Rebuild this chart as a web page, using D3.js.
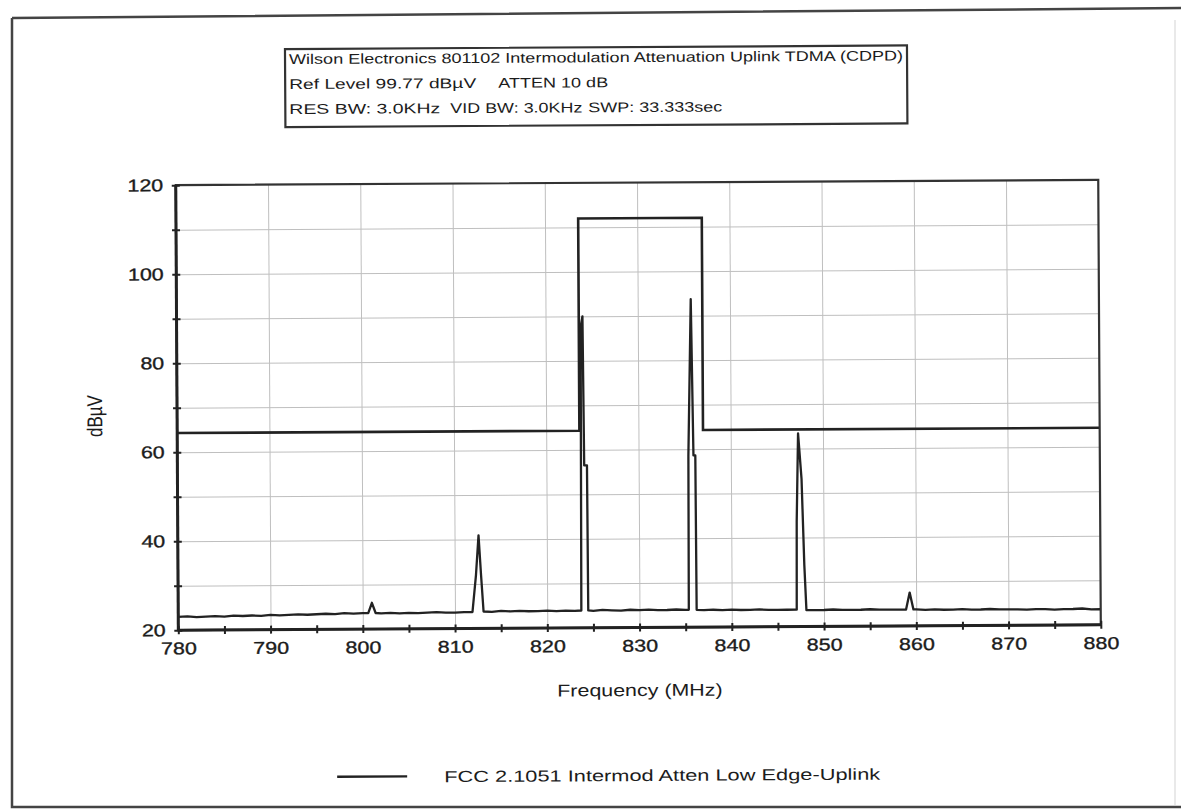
<!DOCTYPE html>
<html lang="en">
<head>
<meta charset="utf-8">
<title>Intermodulation Attenuation Uplink</title>
<style>
  body { margin: 0; background: #fff; }
  svg { display: block; }
  text { font-family: "Liberation Sans", Arial, sans-serif; fill: #1c1c1c; }
  .grid line { stroke: #bfbfbf; stroke-width: 1; }
  .grid path { display: none; }
  .axis path { display: none; }
  .axis line { stroke: #222; stroke-width: 2; }
  .axis text { stroke: #1c1c1c; stroke-width: 0.35; }
</style>
</head>
<body>
<svg width="1181" height="810"></svg>
<script src="https://d3js.org/d3.v7.min.js"></script>
<script>

    // header box lines
    var titleLine1 = ["Wilson Electronics 801102 Intermodulation Attenuation Uplink TDMA (CDPD)"];
    var titleLine2 = ["Ref Level 99.77 dBµV", "ATTEN 10 dB"];
    var titleLine3 = ["RES BW: 3.0KHz", "VID BW: 3.0KHz", "SWP: 33.333sec"];

    var xLabel = "Frequency (MHz)",
        yLabel = "dBµV",
        legendLabel = "FCC 2.1051 Intermod Atten Low Edge-Uplink";

    var xTickLabels = [780, 790, 800, 810, 820, 830, 840, 850, 860, 870, 880];
    var yTickLabels = [20, 40, 60, 80, 100, 120];

    // limit mask (FCC 2.1051)
    var limitFreq  = [780, 823.6, 823.6, 837.0, 837.0, 880];
    var limitLevel = [64.3, 64.3, 112.0, 112.0, 64.3, 64.3];

    var traceFreq = [
        780, 781, 782, 783, 784, 785, 786, 787, 788, 789,
        790, 791, 792, 793, 794, 795, 796, 797, 798, 799,
        800, 800.6, 801.0, 801.4, 802, 803, 804, 805, 806, 807,
        808, 809, 810, 811, 811.9, 812.3, 812.6, 812.85, 813.1, 814,
        815, 816, 817, 818, 819, 820, 821, 822, 823, 823.7,
        823.75, 823.8, 824.0, 824.1, 824.4, 824.45, 825, 826, 827, 828,
        829, 830, 831, 832, 833, 834, 835, 835.35, 835.4, 835.75,
        835.95, 836.15, 836.2, 837, 838, 839, 840, 841, 842, 843,
        844, 845, 846, 847.05, 847.1, 847.3, 847.65, 847.9, 848.1, 849,
        850, 851, 852, 853, 854, 855, 856, 857, 858, 858.9,
        859.3, 859.7, 860, 861, 862, 863, 864, 865, 866, 867,
        868, 869, 870, 871, 872, 873, 874, 875, 876, 877,
        878, 879, 880
    ];
    var traceLevel = [
        23.0, 23.1, 22.9, 23.0, 23.1, 23.0, 23.2, 23.1, 23.2, 23.1,
        23.3, 23.2, 23.3, 23.4, 23.3, 23.4, 23.5, 23.4, 23.6, 23.5,
        23.6, 23.6, 25.9, 23.6, 23.5, 23.6, 23.5, 23.6, 23.5, 23.6,
        23.7, 23.6, 23.6, 23.7, 23.7, 32.0, 40.9, 32.0, 23.8, 23.7,
        23.9, 23.8, 23.9, 23.8, 23.8, 23.9, 23.8, 23.9, 23.8, 23.9,
        56.5, 87.7, 90.0, 56.5, 56.5, 23.9, 23.8, 24.0, 23.9, 23.8,
        24.0, 23.9, 24.0, 23.9, 23.9, 24.0, 23.9, 23.9, 58.6, 93.7,
        58.6, 58.6, 23.9, 23.8, 23.9, 23.8, 23.9, 23.8, 23.8, 23.9,
        23.8, 23.8, 23.8, 23.8, 43.5, 63.4, 53.2, 33.8, 23.7, 23.7,
        23.7, 23.8, 23.7, 23.7, 23.7, 23.8, 23.7, 23.7, 23.7, 23.7,
        27.5, 23.7, 23.7, 23.6, 23.7, 23.6, 23.6, 23.7, 23.6, 23.6,
        23.7, 23.6, 23.6, 23.6, 23.5, 23.6, 23.6, 23.5, 23.6, 23.6,
        23.7, 23.5, 23.5
    ];

    var svg = d3.select("svg"),
        W = +svg.attr("width"),
        H = +svg.attr("height");

    // the scanned page frame
    svg.append("path")
        .attr("d", "M12,18 L1181,8 M12,18 L12,807 L1181,807")
        .attr("fill", "none")
        .attr("stroke", "#444")
        .attr("stroke-width", 2.5);
    svg.append("line")
        .attr("x1", 1175).attr("y1", 20).attr("x2", 1175).attr("y2", 805)
        .attr("stroke", "#e2e2e2").attr("stroke-width", 1.5);

    // the scan is slightly tilted
    var g = svg.append("g").attr("transform", "rotate(-0.33,640,400)");

    var x = d3.scaleLinear().domain([780, 880]).range([177, 1099.5]),
        y = d3.scaleLinear().domain([20, 120]).range([627.5, 182.5]);

    var x0 = x.range()[0], x1 = x.range()[1],
        y0 = y.range()[0], y1 = y.range()[1];

    // grid
    g.append("g").attr("class", "grid")
        .attr("transform", "translate(0," + y0 + ")")
        .call(d3.axisBottom(x).tickValues(d3.range(790, 880, 10)).tickSize(-(y0 - y1)).tickFormat(""));
    g.append("g").attr("class", "grid")
        .attr("transform", "translate(" + x0 + ",0)")
        .call(d3.axisLeft(y).tickValues(d3.range(30, 120, 10)).tickSize(-(x1 - x0)).tickFormat(""));

    var line = d3.line().x(function(d) { return x(d[0]); }).y(function(d) { return y(d[1]); });

    // limit line
    var limitPts = limitFreq.map(function(f, i) { return [f, limitLevel[i]]; });
    g.append("path")
        .datum(limitPts)
        .attr("fill", "none")
        .attr("stroke", "#222")
        .attr("stroke-width", 2.6)
        .attr("d", line);

    // trace
    var tracePts = traceFreq.map(function(f, i) { return [f, traceLevel[i]]; });
    g.append("path")
        .datum(tracePts)
        .attr("fill", "none")
        .attr("stroke", "#222")
        .attr("stroke-width", 2.3)
        .attr("stroke-linejoin", "round")
        .attr("d", line);

    // plot frame
    g.append("rect")
        .attr("x", x0).attr("y", y1)
        .attr("width", x1 - x0).attr("height", y0 - y1)
        .attr("fill", "none")
        .attr("stroke", "#333")
        .attr("stroke-width", 2.2);
    g.append("line").attr("x1", x0).attr("x2", x0).attr("y1", y1).attr("y2", y0)
        .attr("stroke", "#222").attr("stroke-width", 3);
    g.append("line").attr("x1", x0).attr("x2", x1).attr("y1", y0).attr("y2", y0)
        .attr("stroke", "#222").attr("stroke-width", 3);

    // x axis: ticks through the baseline, labels every 10 MHz
    var xTickVals = d3.range(780, 881, 5);
    g.append("g").attr("class", "axis")
        .attr("transform", "translate(0," + y0 + ")")
        .call(d3.axisBottom(x).tickValues(xTickVals).tickSize(4).tickPadding(8)
            .tickFormat(function(d) { return xTickLabels.indexOf(d) >= 0 ? d : ""; }))
        .selectAll("text")
        .attr("font-size", 17)
        .attr("transform", "scale(1.26,1)");
    g.append("g").attr("class", "axis")
        .attr("transform", "translate(0," + y0 + ")")
        .call(d3.axisTop(x).tickValues(xTickVals).tickSize(4).tickFormat(""));

    // y axis: ticks every 10, labels every 20
    var yTickVals = d3.range(20, 121, 10);
    g.append("g").attr("class", "axis")
        .attr("transform", "translate(" + x0 + ",0)")
        .call(d3.axisLeft(y).tickValues(yTickVals).tickSize(4).tickPadding(6)
            .tickFormat(function(d) { return yTickLabels.indexOf(d) >= 0 ? d : ""; }))
        .selectAll("text")
        .attr("font-size", 17)
        .attr("transform", "scale(1.26,1)");
    g.append("g").attr("class", "axis")
        .attr("transform", "translate(" + x0 + ",0)")
        .call(d3.axisRight(y).tickValues(yTickVals).tickSize(4).tickFormat(""));

    // axis titles
    g.append("text")
        .attr("transform", "translate(" + ((x0 + x1) / 2) + ",696) scale(1.26,1)")
        .attr("text-anchor", "middle")
        .attr("font-size", 17)
        .text(xLabel);
    g.append("text")
        .attr("transform", "translate(102,413) rotate(-90) scale(1,1.26)")
        .attr("text-anchor", "middle")
        .attr("font-size", 17)
        .text(yLabel);

    // header box
    g.append("rect")
        .attr("x", 287).attr("y", 47)
        .attr("width", 622).attr("height", 78)
        .attr("fill", "#fff")
        .attr("stroke", "#333")
        .attr("stroke-width", 2.2);

    var headerRows = [
        { items: titleLine1, xs: [291], ends: [905], base: 62 },
        { items: titleLine2, xs: [291, 500], ends: [478, 610], base: 87 },
        { items: titleLine3, xs: [291, 452, 590], ends: [442, 584, 724], base: 112 }
    ];
    headerRows.forEach(function(row) {
        row.items.forEach(function(s, i) {
            g.append("text")
                .attr("x", row.xs[i])
                .attr("y", row.base)
                .attr("font-size", 14)
                .attr("textLength", row.ends[i] - row.xs[i])
                .attr("lengthAdjust", "spacingAndGlyphs")
                .text(s);
        });
    });

    // legend
    g.append("line")
        .attr("x1", 335).attr("x2", 405).attr("y1", 775).attr("y2", 775)
        .attr("stroke", "#222").attr("stroke-width", 2.4);
    g.append("text")
        .attr("x", 442).attr("y", 781)
        .attr("font-size", 16)
        .attr("textLength", 436)
        .attr("lengthAdjust", "spacingAndGlyphs")
        .text(legendLabel);

</script>
</body>
</html>
